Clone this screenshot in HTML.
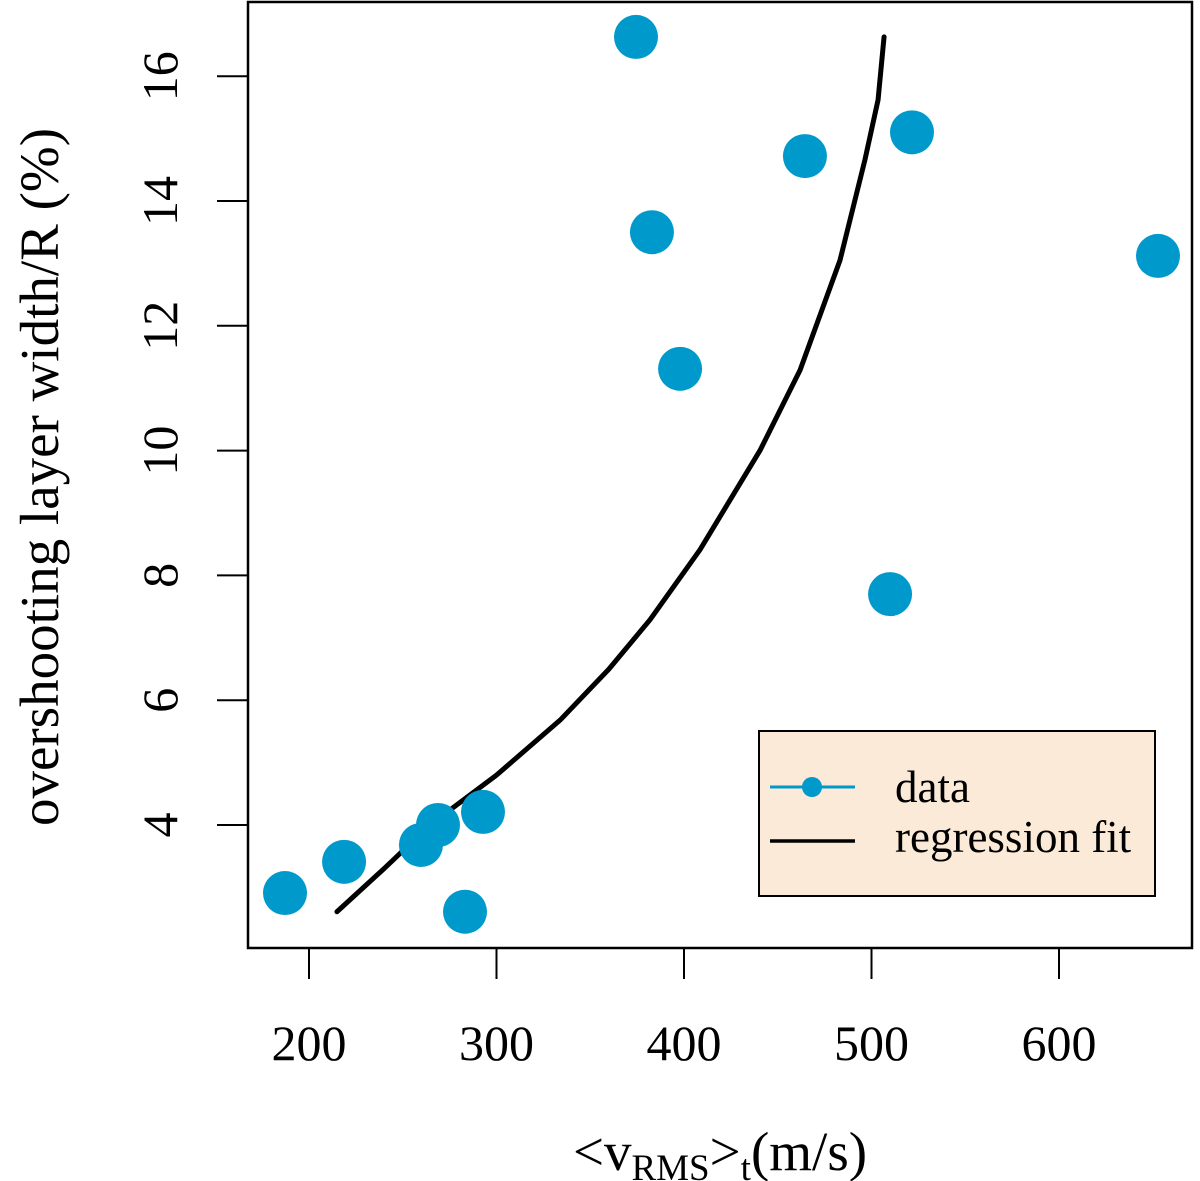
<!DOCTYPE html>
<html><head><meta charset="utf-8"><style>
body{margin:0;background:#fff}
svg{display:block;font-family:"Liberation Serif",serif}
</style></head><body>
<svg id="c" width="1200" height="1181" viewBox="0 0 1200 1181">
<rect x="248" y="2" width="944" height="946" fill="none" stroke="#000" stroke-width="2.5"/>
<g id="axes"></g>
<g id="fit"></g>
<g id="pts"></g>
<g>
<rect x="759" y="731" width="396" height="165" fill="#fbead7" stroke="#000" stroke-width="2"/>
<line x1="770" y1="787" x2="855" y2="787" stroke="#0099cc" stroke-width="3"/>
<circle cx="812" cy="787" r="10" fill="#0099cc"/>
<text x="895" y="802" font-size="45">data</text>
<text x="895" y="852" font-size="45">regression fit</text>
<line x1="770" y1="841" x2="855" y2="841" stroke="#000" stroke-width="3.5"/>
</g>
<text x="720" y="1170" font-size="55" text-anchor="middle">&lt;v<tspan font-size="37" dy="10">RMS</tspan><tspan dy="-10">&gt;</tspan><tspan font-size="37" dy="10">t</tspan><tspan dy="-10">(m/s)</tspan></text>
<text transform="translate(58,477) rotate(-90)" font-size="55" text-anchor="middle">overshooting layer width/R (%)</text>
</svg>
<script>
const xTicks=[200,300,400,500,600];
const yTicks=[4,6,8,10,12,14,16];
const dataX=[187.2,218.7,259.7,268.8,292.8,283.2,374.4,382.9,397.9,464.5,521.6,509.9,652.8];
const dataY=[2.91,3.41,3.68,4.0,4.21,2.61,16.63,13.5,11.31,14.72,15.1,7.7,13.12];
const fitX=[214.9,240,264.5,300,333.9,360,381.9,408.5,440.5,461.9,483.2,496.5,503.5,506.7];
const fitY=[2.61,3.3,4.0,4.8,5.68,6.5,7.29,8.41,10.0,11.29,13.05,14.66,15.62,16.63];
const NS="http://www.w3.org/2000/svg";
const sx=v=>309+(v-200)*1.875;
const sy=v=>825-(v-4)*62.4;
function mk(tag,attrs,parent){const e=document.createElementNS(NS,tag);for(const k in attrs)e.setAttribute(k,attrs[k]);parent.appendChild(e);return e;}
const ax=document.getElementById('axes');
xTicks.forEach(t=>{
 const l=mk('line',{x1:sx(t),x2:sx(t),y1:948,y2:979,stroke:'#000','stroke-width':2},ax);
 
 
 const tx=mk('text',{x:sx(t),y:1060,'font-size':50,'text-anchor':'middle'},ax);
 tx.textContent=t;
 
 
});
yTicks.forEach(t=>{
 const l=mk('line',{x1:217,x2:248,y1:sy(t),y2:sy(t),stroke:'#000','stroke-width':2},ax);
 
 
 const tx=mk('text',{transform:`translate(177,${sy(t)}) rotate(-90)`,'font-size':50,'text-anchor':'middle'},ax);
 tx.textContent=t;
 
 
});
const fit=document.getElementById('fit');
const p=mk('polyline',{points:fitX.map((x,i)=>sx(x)+','+sy(fitY[i])).join(' '),fill:'none',stroke:'#000','stroke-width':5,'stroke-linecap':'round','stroke-linejoin':'round'},fit);


const pts=document.getElementById('pts');
dataX.forEach((x,i)=>{
 const c=mk('circle',{cx:sx(x),cy:sy(dataY[i]),r:22,fill:'#0099cc'},pts);
 
 
});
</script>
</body></html>
